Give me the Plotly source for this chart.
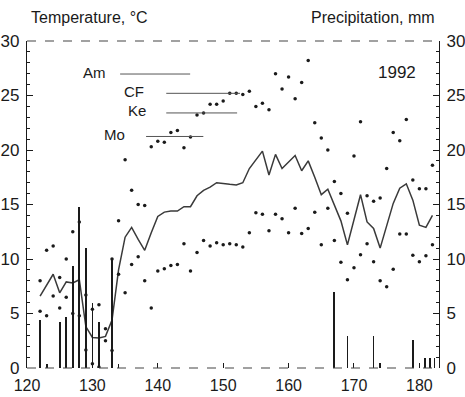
import plotly.graph_objects as go

# ---- data ----
days = list(range(122, 183))
mean_temp = [6.6, 7.6, 8.6, 6.9, 7.9, 7.8, 8.1, 3.8, 2.8, 2.75, 2.9, 4.4, 9.0, 12.0, 12.9,
             11.8, 10.8, 12.4, 13.9, 14.3, 14.4, 14.4, 14.8, 14.8, 15.8, 16.3, 16.6, 17.0,
             16.9, 16.85, 16.8, 17.0, 18.3, 19.1, 19.9, 17.7, 19.6, 18.3, 18.9, 19.5, 18.1,
             19.0, 17.5, 15.9, 16.4, 15.0, 13.5, 11.3, 13.6, 15.9, 13.4, 12.8, 11.0, 13.0,
             15.1, 16.5, 16.9, 15.4, 13.1, 12.9, 14.0]
max_temp = [8.0, 10.8, 11.2, 8.3, 10.0, 12.5, 13.4, 6.7, 5.4, 5.8, 3.6, 10.0, 13.5, 19.1,
            16.3, 15.0, 14.9, 20.3, 20.8, 20.7, 21.6, 21.8, 20.2, 21.2, 23.2, 23.4, 24.2,
            24.2, 24.5, 25.2, 25.2, 25.1, 25.4, 24.0, 24.3, 23.7, 27.0, 25.6, 26.7, 24.7,
            26.2, 28.2, 22.5, 21.1, 20.0, 17.1, 16.0, 14.2, 19.45, 22.6, 15.8, 15.3, 15.6,
            18.3, 21.6, 20.85, 22.8, 17.25, 16.45, 16.45, 18.6]
min_temp = [5.2, 4.8, 6.6, 5.5, 6.5, 5.0, 4.8, 1.65, 0.4, 0.1, 2.5, 1.6, 8.6, 6.9, 9.5,
            10.2, 8.0, 5.5, 8.9, 9.1, 9.4, 9.5, 11.4, 8.9, 10.6, 11.7, 11.2, 11.5, 11.3,
            11.4, 11.3, 11.1, 12.4, 14.25, 14.1, 12.6, 14.1, 13.7, 12.4, 14.65, 12.35,
            12.8, 14.3, 11.3, 14.65, 11.7, 9.7, 8.1, 9.2, 10.4, 11.4, 9.75, 8.0, 7.45,
            9.05, 12.3, 12.3, 10.35, 9.75, 10.3, 11.3]
precip_days = [122, 123, 125, 126, 127, 128, 129, 130, 131, 133, 134,
               167, 169, 173, 174, 179, 180.9, 181.6, 182.3]
precip_mm = [4.4, 0.4, 4.2, 4.7, 9.4, 14.8, 11.0, 6.0, 4.2, 10.0, 0.4,
             7.0, 2.9, 2.9, 0.5, 2.6, 0.9, 0.9, 0.9]
x_ticks = [120, 130, 140, 150, 160, 170, 180]
y_ticks = [0, 5, 10, 15, 20, 25, 30]
legend_labels = ["Am", "CF", "Ke", "Mo"]
year_label = "1992"

FONT = "Liberation Sans, Arial, sans-serif"
INK = "#1a1a1a"

fig = go.Figure()
fig.add_trace(go.Bar(x=precip_days, y=precip_mm, width=0.12, marker=dict(color=INK, line=dict(width=0)),
                     yaxis="y2", showlegend=False, hoverinfo="skip"))
fig.add_trace(go.Scatter(x=days, y=mean_temp, mode="lines", line=dict(color="#3a3a3a", width=1.5),
                         showlegend=False))
fig.add_trace(go.Scatter(x=days, y=max_temp, mode="markers", marker=dict(color=INK, size=3.5),
                         showlegend=False))
fig.add_trace(go.Scatter(x=days, y=min_temp, mode="markers", marker=dict(color=INK, size=3.5),
                         showlegend=False))

axis_common = dict(range=[0, 30], tickvals=y_ticks, ticks="inside", ticklen=6, tickcolor=INK,
                   showline=True, linecolor=INK, linewidth=1.2, showgrid=False, zeroline=False,
                   automargin=False, ticklabelstandoff=3,
                   tickfont=dict(family=FONT, size=17, color=INK),
                   minor=dict(dtick=1, ticks="inside", ticklen=3, tickcolor=INK, showgrid=False))

fig.update_layout(
    width=465, height=397,
    margin=dict(l=27, r=26, t=41, b=29),
    paper_bgcolor="white", plot_bgcolor="white",
    bargap=0,
    xaxis=dict(range=[120, 183], tickvals=x_ticks, ticks="inside", ticklen=5, tickcolor=INK,
               showline=False, showgrid=False, zeroline=False, automargin=False,
               ticklabelstandoff=6,
               tickfont=dict(family=FONT, size=16, color=INK)),
    yaxis=dict(**axis_common),
    yaxis2=dict(**axis_common, overlaying="y", side="right"),
)

# dashed top and bottom frame lines
for yv in (0, 1):
    fig.add_shape(type="line", xref="paper", yref="paper", x0=0, x1=1, y0=yv, y1=yv,
                  line=dict(color="#444", width=1.1, dash="dash"))

# axis titles
fig.add_annotation(text="Temperature, \u00b0C", xref="paper", yref="paper", x=0.006, y=1.0,
                   yshift=24, xanchor="left", yanchor="middle", showarrow=False,
                   font=dict(family=FONT, size=16, color=INK))
fig.add_annotation(text="Precipitation, mm", xref="paper", yref="paper", x=0.995, y=1.0,
                   yshift=24, xanchor="right", yanchor="middle", showarrow=False,
                   font=dict(family=FONT, size=16, color=INK))
fig.add_annotation(text=year_label, xref="paper", yref="paper", x=0.950, y=0.905,
                   xanchor="right", yanchor="middle", showarrow=False,
                   font=dict(family=FONT, size=17, color=INK))

# in-plot legend (text + line samples), positions in paper fractions
leg_text_x = [0.197, 0.290, 0.294, 0.243]
leg_y = [0.905, 0.846, 0.786, 0.714]
leg_line = [(0.226, 0.396), (0.338, 0.517), (0.338, 0.510), (0.289, 0.428)]
for lab, tx, ty, (l0, l1) in zip(legend_labels, leg_text_x, leg_y, leg_line):
    fig.add_annotation(text=lab, xref="paper", yref="paper", x=tx, y=ty, xanchor="right",
                       yanchor="middle", showarrow=False, font=dict(family=FONT, size=15, color=INK))
    fig.add_shape(type="line", xref="paper", yref="paper", x0=l0, x1=l1, y0=ty - 0.006, y1=ty - 0.006,
                  line=dict(color="#555", width=1))

fig.write_html("out.html")
